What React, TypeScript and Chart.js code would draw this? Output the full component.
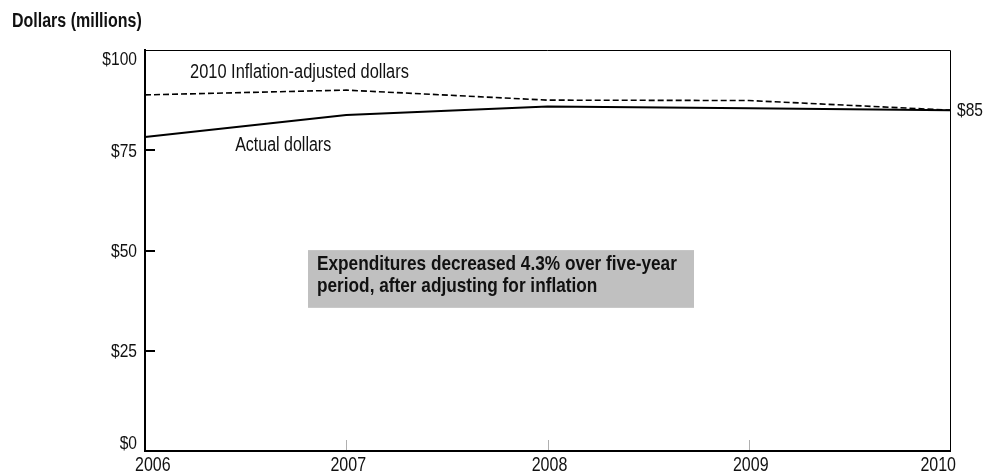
import React, { useEffect, useRef } from "react";
import { Chart, registerables } from "chart.js";

Chart.register(...registerables);

const years = ["2006", "2007", "2008", "2009", "2010"];
const actualDollars = [78.3, 83.8, 85.9, 85.5, 85.0];
const adjustedDollars = [88.8, 90.0, 87.5, 87.4, 85.0];
const yTickValues = [0, 25, 50, 75, 100];
const yAxisTitle = "Dollars (millions)";
const adjustedLabel = "2010 Inflation-adjusted dollars";
const actualLabel = "Actual dollars";
const endLabel = "$85";
const noteLines = [
  "Expenditures decreased 4.3% over five-year",
  "period, after adjusting for inflation",
];

const NARROW = "'Liberation Sans Narrow'";
const REG = "'Liberation Sans', Arial, sans-serif";
let narrowOk: boolean | null = null;

function detectNarrow(ctx: CanvasRenderingContext2D) {
  if (narrowOk !== null) return narrowOk;
  ctx.save();
  ctx.font = `40px ${NARROW}, monospace`;
  const a = ctx.measureText("abcdefghijklmnop").width;
  ctx.font = `40px monospace`;
  const b = ctx.measureText("abcdefghijklmnop").width;
  ctx.restore();
  narrowOk = Math.abs(a - b) > 1;
  return narrowOk;
}

function drawText(
  ctx: CanvasRenderingContext2D,
  text: string,
  x: number,
  y: number,
  size: number,
  bold: boolean,
  align: CanvasTextAlign
) {
  const w = bold ? "bold " : "";
  ctx.save();
  ctx.fillStyle = "#111";
  ctx.textAlign = align;
  ctx.textBaseline = "alphabetic";
  if (detectNarrow(ctx)) {
    ctx.font = `${w}${size}px ${NARROW}, ${REG}`;
    ctx.fillText(text, x, y);
  } else {
    ctx.font = `${w}${size}px ${REG}`;
    ctx.translate(x, y);
    ctx.scale(0.82, 1);
    ctx.fillText(text, 0, 0);
  }
  ctx.restore();
}

const decorPlugin = {
  id: "decor",
  beforeDatasetsDraw(chart: any) {
    const { ctx, scales } = chart;
    const x = scales.x;
    const y = scales.y;
    ctx.save();
    const bx0 = x.getPixelForDecimal(0.2025);
    const bx1 = x.getPixelForDecimal(0.682);
    const by0 = y.getPixelForValue(50.1);
    const by1 = y.getPixelForValue(35.7);
    ctx.fillStyle = "#c0c0c0";
    ctx.fillRect(bx0, by0, bx1 - bx0, by1 - by0);
    ctx.restore();
    drawText(ctx, noteLines[0], bx0 + 9, by0 + 20, 21, true, "left");
    drawText(ctx, noteLines[1], bx0 + 9, by0 + 42, 21, true, "left");
  },
  afterDraw(chart: any) {
    const { ctx, chartArea: ca, scales } = chart;
    const x = scales.x;
    const y = scales.y;
    ctx.save();
    ctx.strokeStyle = "#000";
    ctx.lineWidth = 1;
    ctx.beginPath();
    ctx.moveTo(ca.left, ca.top + 0.5);
    ctx.lineTo(ca.right + 0.5, ca.top + 0.5);
    ctx.lineTo(ca.right + 0.5, ca.bottom);
    ctx.stroke();
    ctx.lineWidth = 2;
    yTickValues.forEach((v) => {
      if (v === 0 || v === 100) return;
      const py = Math.round(y.getPixelForValue(v));
      ctx.beginPath();
      ctx.moveTo(ca.left, py);
      ctx.lineTo(ca.left + 10, py);
      ctx.stroke();
    });
    ctx.strokeStyle = "#b0b0b0";
    ctx.lineWidth = 1;
    years.forEach((_, i) => {
      if (i === 0 || i === years.length - 1) return;
      const px = Math.round(x.getPixelForValue(i)) + 0.5;
      ctx.beginPath();
      ctx.moveTo(px, ca.bottom - 1);
      ctx.lineTo(px, ca.bottom - 11);
      ctx.stroke();
    });
    ctx.restore();

    yTickValues.forEach((v, i) => {
      const py = y.getPixelForValue(v);
      let base = py + 6.5;
      if (i === yTickValues.length - 1) base = py + 15;
      if (i === 0) base = py - 2;
      drawText(ctx, "$" + v, ca.left - 8, base, 19, false, "right");
    });
    years.forEach((yr, i) => {
      const px = x.getPixelForValue(i);
      const base = ca.bottom + 20;
      if (i === 0) drawText(ctx, yr, px - 10, base, 19.5, false, "left");
      else if (i === years.length - 1) drawText(ctx, yr, px + 6, base, 19.5, false, "right");
      else drawText(ctx, yr, px + 2, base, 19.5, false, "center");
    });

    drawText(ctx, yAxisTitle, 12, 27, 19.5, true, "left");
    drawText(ctx, adjustedLabel, x.getPixelForDecimal(0.056), y.getPixelForValue(92.9), 20, false, "left");
    drawText(ctx, actualLabel, x.getPixelForDecimal(0.112), y.getPixelForValue(74.8), 19.5, false, "left");
    drawText(ctx, endLabel, ca.right + 7, y.getPixelForValue(adjustedDollars[4]) + 5.5, 19, false, "left");
  },
};

export default function App() {
  const ref = useRef<HTMLCanvasElement | null>(null);
  useEffect(() => {
    document.body.style.margin = "0";
    const canvas = ref.current;
    if (!canvas) return;
    const chart = new Chart(canvas, {
      type: "line",
      data: {
        labels: years,
        datasets: [
          {
            label: "Actual dollars",
            data: actualDollars,
            borderColor: "#000",
            borderWidth: 2,
            pointRadius: 0,
            tension: 0,
            fill: false,
          },
          {
            label: "2010 Inflation-adjusted dollars",
            data: adjustedDollars,
            borderColor: "#000",
            borderWidth: 1.6,
            borderDash: [6, 3],
            pointRadius: 0,
            tension: 0,
            fill: false,
          },
        ],
      },
      options: {
        responsive: false,
        animation: false,
        devicePixelRatio: 1,
        layout: { padding: { top: 50, right: 36, left: 0, bottom: 0 } },
        plugins: {
          legend: { display: false },
          tooltip: { enabled: false },
          title: { display: false },
        },
        scales: {
          x: {
            type: "category",
            offset: false,
            grid: { display: false, drawTicks: false },
            border: { display: true, color: "#000", width: 2 },
            ticks: { display: false, autoSkip: false },
            afterFit: (s: any) => {
              s.height = 24;
            },
          },
          y: {
            min: 0,
            max: 100,
            grid: { display: false, drawTicks: false },
            border: { display: true, color: "#000", width: 2 },
            ticks: { display: false, stepSize: 25 },
            afterFit: (s: any) => {
              s.width = 145;
            },
          },
        },
      },
      plugins: [decorPlugin],
    });
    return () => chart.destroy();
  }, []);
  return (
    <div style={{ position: "absolute", left: 0, top: 0, width: 986, height: 475, background: "#fff" }}>
      <canvas ref={ref} width={986} height={475} />
    </div>
  );
}
